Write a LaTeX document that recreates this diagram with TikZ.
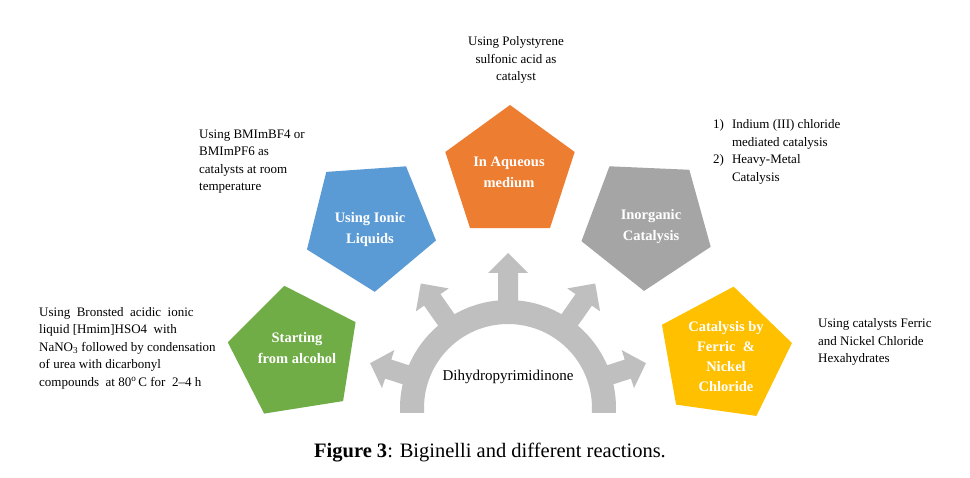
\documentclass[tikz,border=0pt]{standalone}
\usepackage{fontspec}
\setmainfont{Liberation Serif}
\usetikzlibrary{shapes.geometric,calc}
\definecolor{cgreen}{HTML}{70AD47}
\definecolor{cblue}{HTML}{5B9BD5}
\definecolor{corange}{HTML}{ED7D31}
\definecolor{cgray}{HTML}{A5A5A5}
\definecolor{cyellow}{HTML}{FFC000}
\definecolor{arrowfill}{HTML}{BFBFBF}
\begin{document}
\begin{tikzpicture}[x=1pt,y=1pt,
  penta/.style={regular polygon, regular polygon sides=5, minimum size=#1, inner sep=0pt, outer sep=0pt, draw=none},
  pentext/.style={text=white, font=\fontsize{14.5}{21}\selectfont\bfseries, align=center, inner sep=0pt},
  note/.style={font=\fontsize{13}{17.5}\selectfont, inner sep=0pt, align=left},
  notec/.style={font=\fontsize{13}{17.5}\selectfont, inner sep=0pt, align=center},
  ]
\useasboundingbox (0,0) rectangle (970,477);
\fill[white] (0,0) rectangle (970,477);

% central arc with arrows
\coordinate (C) at (508,69);
\fill[arrowfill] ($(C)+(-2.65:108)$) arc[start angle=-2.65, end angle=182.65, radius=108]
  -- ($(C)+(183.4:84)$) arc[start angle=183.4, end angle=-3.4, radius=84] -- cycle;
\foreach \a/\b/\t in {90/135/155, 55/132/152, 125/132/152, 18/126/145, 162/126/145} {
  \fill[arrowfill, shift={(C)}, rotate=\a] (95,-10) -- (\b,-10) -- (\b,-20) -- (\t,0) -- (\b,20) -- (\b,10) -- (95,10) -- cycle;
}
\node[font=\fontsize{15}{18}\selectfont, inner sep=0pt] (dhp) at (508,100) {Dihydropyrimidinone};

% pentagons
\node[penta=136, fill=cgreen, shape border rotate=9] (pg) at (295,124) {};
\node[penta=136, fill=cblue, shape border rotate=40] (pb) at (370,253) {};
\node[penta=136, fill=corange] (po) at (510,304) {};
\node[penta=136, fill=cgray, shape border rotate=33.5] (pr) at (647,254) {};
\node[penta=138, fill=cyellow, shape border rotate=-8] (py) at (724,122) {};

\node[pentext] (tg) at (297,129) {Starting\\from alcohol};
\node[pentext] (tb) at (370,247) {Using Ionic\\Liquids};
\node[pentext] (to) at (509,305) {In Aqueous\\medium};
\node[pentext] (tr) at (651,250) {Inorganic\\Catalysis};
\node[pentext, font=\fontsize{14.5}{20}\selectfont\bfseries] (ty) at (726,120) {Catalysis by\\Ferric \ \&\\Nickel\\Chloride};

% annotations
\node[note, anchor=west] (ng) at (39,129) {Using\hspace{6.5pt}Bronsted\hspace{6.5pt}acidic\hspace{6.5pt}ionic\\liquid [Hmim]HSO4 \ with\\NaNO\textsubscript{3} followed by condensation\\of urea with dicarbonyl\\compounds \ at 80\textsuperscript{o}\,C for \ 2--4 h};
\node[note, anchor=west] (nb) at (199,315.5) {Using BMImBF4 or\\BMImPF6 as\\catalysts at room\\temperature};
\node[notec] (no) at (516,417) {Using Polystyrene\\sulfonic acid as\\catalyst};
\node[note, anchor=west] (nr) at (713,325.5) {\begin{tabular}{@{}l@{\hspace{8pt}}l@{}}1) & Indium (III) chloride\\ & mediated catalysis\\ 2) & Heavy-Metal\\ & Catalysis\end{tabular}};
\node[note, anchor=west] (ny) at (818,135) {Using catalysts Ferric\\and Nickel Chloride\\Hexahydrates};

% caption
\node[font=\fontsize{20.5}{24}\selectfont, inner sep=0pt] (cap) at (490,24) {\textbf{Figure 3}: Biginelli and different reactions.};
\end{tikzpicture}
\end{document}
